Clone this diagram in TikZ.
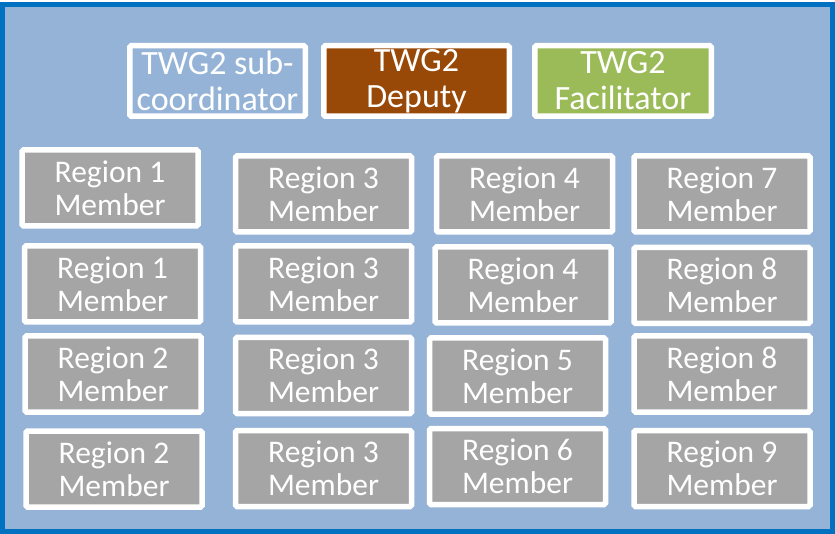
\documentclass[tikz,border=0pt]{standalone}
\usepackage{fontspec}
\setmainfont{Carlito}
\definecolor{frameblue}{HTML}{0070C0}
\definecolor{panelblue}{HTML}{95B3D7}
\definecolor{deputybrown}{HTML}{984807}
\definecolor{facilgreen}{HTML}{9BBB59}
\definecolor{membergray}{HTML}{A5A5A5}

\begin{document}
\begin{tikzpicture}[x=1pt, y=-1pt,
	box/.style={draw=white, line width=5.5pt, rounded corners=1.5pt, text=white, align=center, inner sep=0pt},
	lead/.style={box, minimum height=70.5pt, font=\fontsize{34}{36}\selectfont},
	member/.style={box, fill=membergray, minimum width=176pt, minimum height=76pt, font=\fontsize{31.5}{33}\selectfont}]
		%%%%% START %%%%%
		\useasboundingbox (0, 0) rectangle (835, 534);
		
		\draw[line width=5pt, draw=frameblue, fill=panelblue] (2.5, 4.5) rectangle (832.5, 531.5);
		
		\node[lead, fill=panelblue, minimum width=175.5pt] (subco) at (217.5, 81) {TWG2 sub-\\coordinator};
		\node[lead, fill=deputybrown, minimum width=185.5pt] (deputy) at (416.5, 81) {TWG2\\Deputy};
		\node[lead, fill=facilgreen, minimum width=176.5pt] (facil) at (623, 81) {TWG2\\Facilitator};
		
		\node[member] (r1a) at (110, 188) {Region 1\\Member};
		\node[member] (r1b) at (112.5, 284) {Region 1\\Member};
		\node[member] (r2a) at (113, 374) {Region 2\\Member};
		\node[member] (r2b) at (114, 469) {Region 2\\Member};
		
		\node[member] (r3a) at (323.5, 194) {Region 3\\Member};
		\node[member] (r3b) at (323.5, 284) {Region 3\\Member};
		\node[member] (r3c) at (323.5, 375.5) {Region 3\\Member};
		\node[member] (r3d) at (323.5, 468.5) {Region 3\\Member};
		
		\node[member] (r4a) at (524.5, 194) {Region 4\\Member};
		\node[member] (r4b) at (523, 285) {Region 4\\Member};
		\node[member] (r5) at (517.5, 376) {Region 5\\Member};
		\node[member] (r6) at (517.5, 466.5) {Region 6\\Member};
		
		\node[member] (r7) at (722, 194) {Region 7\\Member};
		\node[member] (r8a) at (722, 285.5) {Region 8\\Member};
		\node[member] (r8b) at (722, 374) {Region 8\\Member};
		\node[member] (r9) at (722, 468.5) {Region 9\\Member};
		
		%%%%% END %%%%%
\end{tikzpicture}
\end{document}
